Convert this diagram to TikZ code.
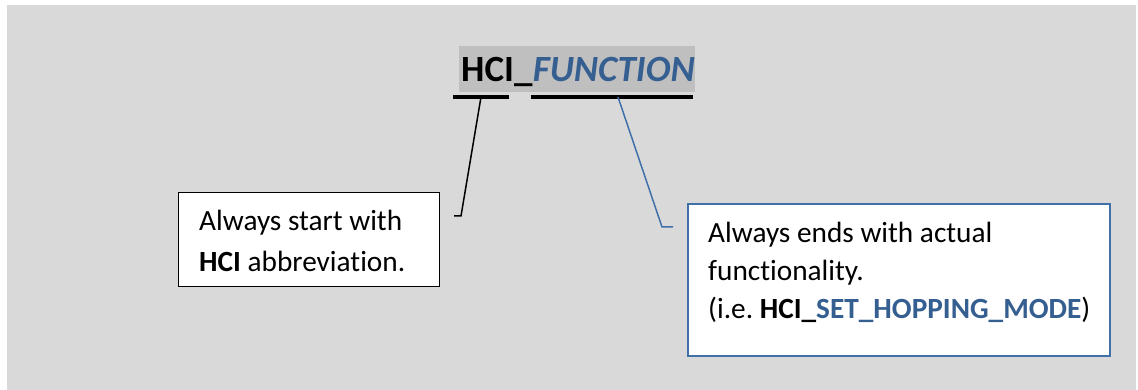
\documentclass[tikz,border=0pt]{standalone}
\usepackage{fontspec}
\setmainfont[Ligatures={NoCommon}]{Carlito}
\definecolor{bg}{HTML}{D9D9D9}
\definecolor{hl}{HTML}{BFBFBF}
\definecolor{acc}{HTML}{365F91}
\definecolor{accline}{HTML}{4070A8}
\tikzset{
  boxtext/.style={anchor=base west, inner sep=0pt, font=\fontsize{29.3}{35}\selectfont},
  titletext/.style={anchor=base west, inner sep=0pt, font=\fontsize{37}{44}\selectfont\bfseries},
  bar/.style={line width=4pt},
  calloutbox/.style={draw, fill=white, anchor=north west, inner sep=0pt},
}
\begin{document}
\begin{tikzpicture}[x=1pt,y=-1pt]
\useasboundingbox (0,0) rectangle (1138,390);
\fill[bg] (7,5) rectangle (1136,390);
% title highlight
\fill[hl] (459,46) rectangle (695,92);
\node[titletext] (hci) at (461,82) {HCI\_};
\node[titletext, text=acc, anchor=base west] (fn) at (hci.base east) {\itshape FUNCTION};
% underline bars
\coordinate (b1a) at (453,97); \coordinate (b1b) at (509,97);
\coordinate (b2a) at (531,97); \coordinate (b2b) at (693,97);
\draw[bar] (b1a) -- (b1b);
\draw[bar] (b2a) -- (b2b);
% left callout
\node[calloutbox, line width=1.2pt, minimum width=261pt, minimum height=94pt] (lbox) at (178,192) {};
\node[boxtext] (l1) at (199,231) {Always start with};
\node[boxtext] (l2) at (199,272) {\textbf{HCI} abbreviation.};
% right callout
\node[calloutbox, draw=accline, line width=2pt, minimum width=422pt, minimum height=152pt] (rbox) at (687,203) {};
\node[boxtext] (r1) at (708,243) {Always ends with actual};
\node[boxtext] (r2) at (708,280) {functionality.};
\node[boxtext] (r3) at (708,318) {(i.e.\ \textbf{HCI\_}{\color{acc}\textbf{SET\_HOPPING\_MODE}})};
% connectors
\coordinate (c1s) at (481,97); \coordinate (c1m) at (461,216); \coordinate (c1e) at (454,216);
\draw[line width=1.5pt] (c1s) -- (c1m) -- (c1e);
\coordinate (c2s) at (618,97); \coordinate (c2m) at (662,227); \coordinate (c2e) at (673,227);
\draw[accline, line width=1.5pt] (c2s) -- (c2m) -- (c2e);
\end{tikzpicture}
\end{document}
